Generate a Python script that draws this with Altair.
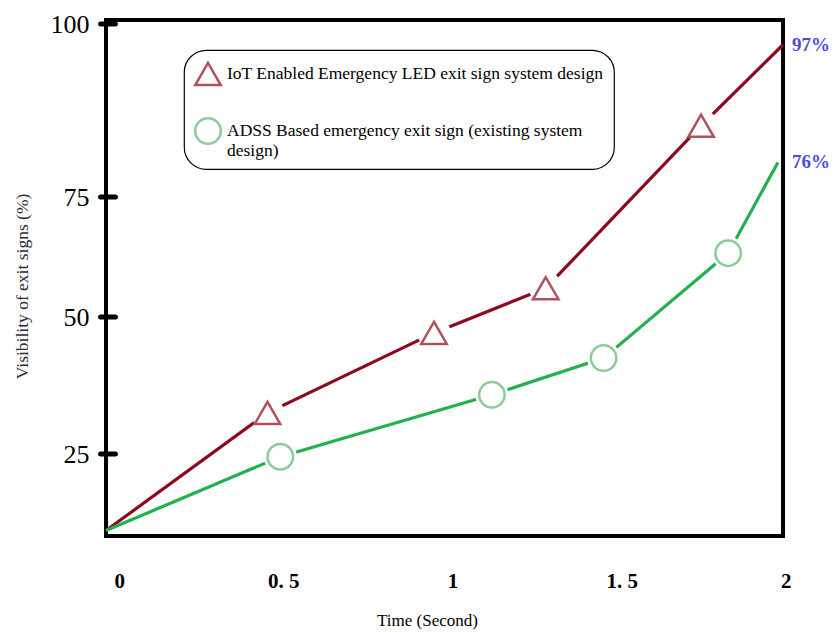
import altair as alt
import pandas as pd

series_names = ["IoT Enabled Emergency LED exit sign system design",
                "ADSS Based emergency exit sign (existing system design)"]
time_iot = [0, 0.477, 0.969, 1.299, 1.758, 2.0]
vis_iot = [11, 32.5, 47.1, 56.0, 85.3, 97]
time_adss = [0, 0.515, 1.14, 1.47, 1.838, 1.985]
vis_adss = [11, 24.5, 35.8, 42.5, 63.3, 80]
end_labels = ["97%", "76%"]
y_ticks = [25, 50, 75, 100]
x_ticks = [0, 0.5, 1, 1.5, 2]

lines = pd.concat([
    pd.DataFrame({"time": time_iot, "vis": vis_iot, "line_series": series_names[0]}),
    pd.DataFrame({"time": time_adss, "vis": vis_adss, "line_series": series_names[1]}),
])
points = pd.concat([
    pd.DataFrame({"time": time_iot[1:-1], "vis": vis_iot[1:-1], "series": series_names[0]}),
    pd.DataFrame({"time": time_adss[1:-1], "vis": vis_adss[1:-1], "series": series_names[1]}),
])
ends = pd.DataFrame({"vis": [vis_iot[-1], vis_adss[-1]], "label": end_labels})
ticks = pd.DataFrame({"vis": y_ticks})

FONT = "Liberation Serif"
x_scale = alt.Scale(domain=[0, 2], nice=False, zero=False)
y_scale = alt.Scale(domain=[10, 25, 50, 75, 100], range=[516, 434, 297, 177, 4],
                    nice=False, zero=False)

x_axis = alt.Axis(values=x_ticks, format="~g", labelExpr="replace(datum.label, '.', '. ')",
                  domain=False, ticks=False, grid=False, labelPadding=34, labelOffset=8,
                  labelFont=FONT, labelFontSize=21, labelFontWeight="bold", labelColor="black",
                  title="Time (Second)", titleFont=FONT, titleFontSize=17,
                  titleFontWeight="normal", titleColor="black",
                  titleX=321, titleY=84, titleBaseline="middle", titleAlign="center")
y_axis = alt.Axis(values=y_ticks, domain=False, ticks=False, grid=False, labelPadding=17,
                  labelFont=FONT, labelFontSize=26, labelColor="black",
                  title="Visibility of exit signs (%)", titleFont=FONT, titleFontSize=17.5,
                  titleFontWeight="normal", titleColor="#2a2a3a",
                  titleX=-84, titleY=266, titleBaseline="middle", titleAlign="center")

X = alt.X("time:Q", scale=x_scale, axis=x_axis)
Y = alt.Y("vis:Q", scale=y_scale, axis=y_axis)

# reversed domain order so this hidden-legend scale is not merged with the visible legend
line_layer = alt.Chart(lines).mark_line(strokeWidth=3.2).encode(
    x=X, y=Y,
    stroke=alt.Stroke("line_series:N",
                      scale=alt.Scale(domain=series_names[::-1], range=["#22b14c", "#8b0a1e"]),
                      legend=None),
)

mask_layer = alt.Chart(points).mark_point(shape="circle", filled=True, color="white",
                                          size=1100, opacity=1).encode(x=X, y=Y)

label_expr = ("datum.label == '" + series_names[1] + "' ? "
              "['ADSS Based emergency exit sign (existing system', 'design)'] : datum.label")


def make_legend():
    return alt.Legend(
        title=None, labelExpr=label_expr, orient="none", legendX=78, legendY=30,
        fillColor="white", padding=10,
        labelFont=FONT, labelFontSize=17.5, labelColor="black", labelLimit=600,
        symbolSize=650, symbolStrokeWidth=2.5, rowPadding=22, labelOffset=5,
    )


point_layer = alt.Chart(points).mark_point(filled=False, size=650, strokeWidth=2.5, opacity=1).encode(
    x=X, y=Y,
    color=alt.Color("series:N", scale=alt.Scale(domain=series_names, range=["#b0525c", "#8ccc96"]),
                    legend=make_legend()),
    shape=alt.Shape("series:N", scale=alt.Scale(domain=series_names, range=["triangle-up", "circle"]),
                    legend=make_legend()),
)

tick_layer = alt.Chart(ticks).mark_tick(orient="horizontal", size=20, thickness=5, color="black",
                                        xOffset=2, cornerRadius=2.5, opacity=1).encode(
    x=alt.datum(0), y=alt.Y("vis:Q", scale=y_scale),
)

end_layer = alt.Chart(ends).mark_text(align="left", baseline="middle", dx=9, font=FONT,
                                      fontSize=19, fontWeight="bold", color="#4d4ddb").encode(
    x=alt.datum(2), y=alt.Y("vis:Q", scale=y_scale), text="label:N",
)

chart = alt.layer(line_layer, mask_layer, point_layer, tick_layer, end_layer).properties(
    width=677, height=516, autosize="none",
    padding={"left": 98, "top": 12, "right": 47, "bottom": 94},
).configure_view(
    stroke="black", strokeWidth=4
).configure_legend(
    orient="none", legendX=78, legendY=30, strokeColor="black", strokeWidth=1.2,
    cornerRadius=22, padding=10, fillColor="white",
)

chart.save("out.html", embed_options={"renderer": "svg", "actions": False})
